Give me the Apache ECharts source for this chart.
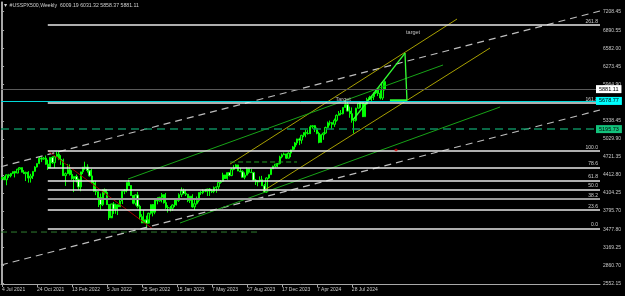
<!DOCTYPE html>
<html>
<head>
<meta charset="utf-8">
<title>#USSPX500,Weekly</title>
<script src="https://cdn.jsdelivr.net/npm/echarts@6/dist/echarts.min.js"></script>
<style>
  html, body { margin: 0; padding: 0; background: #000; }
  #chart { width: 625px; height: 296px; }
</style>
</head>
<body>
<div id="chart"></div>
<script>
// weekly bars from the week of 4 Jul 2021 to the week of 10 Nov 2024
var opens = [
  4352,4370,4327,4412,4395,4437,4468,4442,4509,4535,4458,4432,4455,4357,4391,4471,4545,4605,4697,4682,4698,4595,4538,4712,4620,4725,
  4766,4677,4663,4398,4432,4500,4419,4349,4385,4329,4204,4463,4543,4546,4488,4393,4272,4132,4123,4024,3901,4158,4109,3901,3675,3912,
  3825,3899,3863,3962,4130,4145,4280,4228,4058,3924,4067,3873,3693,3586,3640,3583,3753,3901,3771,3993,3965,4026,4072,3934,3852,3845,
  3840,3895,3999,3973,4071,4136,4090,4079,3970,4046,3862,3917,3971,4109,4105,4138,4133,4169,4136,4124,4192,4205,4282,4299,4410,4349,
  4450,4399,4505,4536,4582,4478,4464,4370,4406,4516,4457,4450,4320,4288,4309,4327,4224,4117,4358,4415,4514,4559,4595,4604,4719,4755,
  4770,4697,4784,4840,4891,4959,5027,5006,5089,5137,5124,5117,5234,5254,5204,5123,4967,5100,5128,5223,5303,5305,5278,5347,5432,5465,
  5460,5567,5615,5505,5459,5347,5344,5554,5634,5648,5408,5626,5703,5738,5751,5815,5864,5808,5729,6009.19
];
var highs = [
  4372,4393,4415,4429,4442,4468,4480,4513,4545,4536,4492,4465,4475,4429,4475,4559,4608,4718,4714,4718,4743,4672,4713,4731,4740,4808,
  4819,4749,4690,4453,4595,4590,4490,4385,4417,4347,4465,4547,4637,4593,4471,4513,4309,4307,4082,4091,4158,4178,4164,3838,3914,3946,
  3918,3875,4012,4140,4168,4281,4325,4203,4062,4077,4119,3899,3736,3806,3712,3763,3906,3911,4001,4028,4034,4101,4076,4101,3891,3878,
  3907,4003,4015,4095,4195,4176,4156,4082,4049,4079,3987,4040,4110,4133,4164,4170,4170,4184,4165,4212,4213,4290,4323,4448,4407,4456,
  4456,4527,4578,4593,4584,4531,4490,4452,4541,4515,4511,4464,4338,4314,4385,4394,4255,4367,4415,4520,4568,4595,4609,4739,4778,4793,
  4773,4799,4842,4907,4975,5030,5049,5098,5140,5189,5179,5262,5265,5264,5222,5150,5114,5139,5239,5325,5342,5316,5376,5448,5505,5523,
  5570,5655,5670,5582,5567,5383,5561,5643,5651,5651,5636,5733,5767,5767,5822,5878,5866,5862,6012,6031.32
];
var lows = [
  4321,4321,4233,4360,4368,4425,4367,4444,4513,4458,4427,4305,4278,4279,4340,4465,4537,4595,4630,4672,4585,4495,4558,4600,4531,4733,
  4663,4582,4396,4222,4451,4401,4327,4115,4279,4157,4130,4425,4497,4450,4381,4269,4124,4063,3859,3811,3875,4074,3901,3637,3705,3741,
  3744,3722,3863,3911,4080,4112,4218,4057,3907,3887,3838,3647,3585,3590,3492,3648,3731,3699,3736,3906,3951,3938,3918,3828,3765,3784,
  3794,3859,3885,3947,4031,4079,4048,3943,3928,3847,3809,3902,3940,4068,4080,4114,4049,4049,4099,4098,4104,4167,4260,4290,4341,4329,
  4385,4389,4491,4527,4475,4464,4365,4335,4414,4430,4446,4317,4238,4216,4284,4223,4104,4104,4342,4412,4511,4537,4546,4591,4695,4751,
  4682,4700,4714,4844,4845,4919,4921,4946,5057,5056,5103,5138,5203,5146,5107,4953,4969,5012,5114,5211,5257,5191,5234,5324,5431,5434,
  5448,5560,5497,5390,5306,5120,5324,5560,5560,5403,5406,5615,5703,5674,5696,5796,5762,5703,5696,5858.37
];
var closes = [
  4370,4327,4412,4395,4437,4468,4442,4509,4535,4458,4432,4455,4357,4391,4471,4545,4605,4697,4682,4698,4595,4538,4712,4620,4725,4766,
  4677,4663,4398,4432,4500,4419,4349,4385,4329,4204,4463,4543,4546,4488,4393,4272,4132,4123,4024,3901,4158,4109,3901,3675,3912,3825,
  3899,3863,3962,4130,4145,4280,4228,4058,3924,4067,3873,3693,3586,3640,3583,3753,3901,3771,3993,3965,4026,4072,3934,3852,3845,3840,
  3895,3999,3973,4071,4136,4090,4079,3970,4046,3862,3917,3971,4109,4105,4138,4133,4169,4136,4124,4192,4205,4282,4299,4410,4349,4450,
  4399,4505,4536,4582,4478,4464,4370,4406,4516,4457,4450,4320,4288,4309,4327,4224,4117,4358,4415,4514,4559,4595,4604,4719,4755,4770,
  4697,4784,4840,4891,4959,5027,5006,5089,5137,5124,5117,5234,5254,5204,5123,4967,5100,5128,5223,5303,5305,5278,5347,5432,5465,5460,
  5567,5615,5505,5459,5347,5344,5554,5634,5648,5408,5626,5703,5738,5751,5815,5864,5808,5729,5995,5881.11
];

// time labels, one every 16 weeks
var dateLabels = ['4 Jul 2021','24 Oct 2021','13 Feb 2022','5 Jun 2022','25 Sep 2022','15 Jan 2023',
                  '7 May 2023','27 Aug 2023','17 Dec 2023','7 Apr 2024','28 Jul 2024'];
var priceLabels = [2552.15,2860.70,3169.25,3477.80,3795.70,4104.25,4412.80,4721.35,5029.90,5338.45,
                   5964.90,6273.45,6582.00,6890.55,7208.45];

// fibonacci retracement
var fibLow = 3492, fibHigh = 4825;
var fibLevels = [0, 23.6, 38.2, 50, 61.8, 78.6, 100, 161.8, 261.8];
var fibStart = 20.9;

var bidPrice = 5881.11;
var cyanLevel = 5678.77;
var greenLevel = 5195.73;

// drawn objects as [week index, price]
var upperDash = [[-0.5, 4551], [273.5, 7221]];
var lowerDash = [[-0.5, 2866], [273.5, 5523]];
var yellowUpper = [[104.3, 4597], [208.1, 7083]];
var yellowLower = [[119.4, 4134], [223.2, 6586]];
var greenA = [[57.6, 4340], [201.7, 6295]];
var greenB = [[81.4, 3586], [227.8, 5575]];
var fibDiag = [[fibStart, fibHigh], [68.6, fibLow]];
var greenShort = [[104.3, 4632], [134.9, 4632]];
var lowDash = [[-0.5, 3431], [117.1, 3431]];
var limeDiag = [[160.5, 5352], [184.3, 6500]];
var limeVert = [[184.3, 6500], [185.2, 5690]];
var limeBase = [[177.4, 5690], [185.2, 5690]];
var textMarks = [[188.0, 6860, 'target'], [156.0, 5700, 'Target']];
var redMark = [[180.2, 4837]];

var SLOTS = 274;
var FONT = 'Liberation Sans';

var cats = [];
for (var i = 0; i < SLOTS; i++) cats.push(i);

var candles = opens.map(function (o, i) {
  return [o, closes[i], lows[i], highs[i]];
});

function seg(pts, color, width, dash) {
  return {
    type: 'line', xAxisIndex: 1, yAxisIndex: 0, data: pts,
    symbol: 'none', silent: true, animation: false, z: 4,
    lineStyle: { color: color, width: width, type: dash || 'solid' }
  };
}

var fibLines = fibLevels.map(function (l) {
  var p = fibLow + (fibHigh - fibLow) * l / 100;
  return [
    { coord: [fibStart, p], name: l.toFixed(1),
      lineStyle: { color: l === 38.2 ? '#9a9a9a' : '#e8e8e8', width: l === 38.2 ? 2 : 1.5, type: 'solid' } },
    { coord: [273.5, p] }
  ];
});

function priceBox(val, lineColor, dash, boxColor) {
  return {
    yAxis: val,
    lineStyle: { color: lineColor, width: dash ? 1.5 : 1, type: dash ? [8, 5] : 'solid' },
    label: {
      show: true, position: 'end', distance: -4, formatter: val.toFixed(2),
      backgroundColor: boxColor, color: '#000', fontSize: 5.5, fontFamily: FONT,
      padding: [1, 3, 1, 3]
    }
  };
}

var chart = echarts.init(document.getElementById('chart'));
chart.setOption({
  backgroundColor: '#000',
  animation: false,
  title: {
    text: '\u25BC #USSPX500,Weekly  ' + opens[opens.length - 1].toFixed(2) + ' ' +
          highs[highs.length - 1].toFixed(2) + ' ' + lows[lows.length - 1].toFixed(2) + ' ' +
          closes[closes.length - 1].toFixed(2),
    left: 3, top: 3, padding: 0,
    textStyle: { color: '#cfcfcf', fontSize: 5.2, fontWeight: 'normal', fontFamily: FONT }
  },
  grid: { left: 1, right: 25, top: 2, bottom: 12, containLabel: false, outerBoundsMode: 'none' },
  xAxis: [{
    type: 'category', data: cats, boundaryGap: true,
    axisLine: { show: true, lineStyle: { color: '#a8a8a8', width: 1 } },
    axisTick: { show: true, alignWithLabel: true, length: 3, lineStyle: { color: '#a8a8a8' },
      interval: function (idx) { return idx % 16 === 0 && idx / 16 < dateLabels.length; } },
    axisLabel: {
      show: true, color: '#c8c8c8', fontSize: 5, fontFamily: FONT, align: 'left', margin: 3,
      interval: function (idx) { return idx % 16 === 0 && idx / 16 < dateLabels.length; },
      formatter: function (v, idx) { return dateLabels[idx / 16] || ''; }
    },
    splitLine: { show: false }
  }, {
    type: 'value', min: -0.5, max: SLOTS - 0.5, show: false
  }],
  yAxis: [{
    type: 'value', position: 'right', min: 2540, max: 7375, scale: true,
    axisLine: { show: true, lineStyle: { color: '#a8a8a8', width: 1 } },
    axisTick: { show: true, length: 2, customValues: priceLabels, lineStyle: { color: '#a8a8a8' } },
    axisLabel: { show: true, customValues: priceLabels, color: '#c8c8c8', fontSize: 5, fontFamily: FONT, margin: 3,
      formatter: function (v) { return v.toFixed(2); } },
    splitLine: { show: false }
  }, {
    type: 'value', position: 'left', min: 2540, max: 7375,
    axisLine: { show: true, lineStyle: { color: '#a8a8a8', width: 1 } },
    axisTick: { show: false }, axisLabel: { show: false }, splitLine: { show: false }
  }],
  series: [
    {
      type: 'candlestick', data: candles, barWidth: 1.8, z: 3,
      itemStyle: { color: '#0a2a0a', color0: '#e8ffe8', borderColor: '#00ff00', borderColor0: '#00ff00', borderWidth: 1 }
    },
    seg(upperDash, '#bdbdbd', 1.2, [7, 5]),
    seg(lowerDash, '#bdbdbd', 1.2, [7, 5]),
    seg(lowDash, '#2f7d2f', 1, [6, 4]),
    seg(yellowUpper, '#a8a000', 1),
    seg(yellowLower, '#a8a000', 1),
    seg(greenA, '#17a317', 1),
    seg(greenB, '#17a317', 1),
    seg(fibDiag, '#a00000', 1),
    seg(greenShort, '#22a022', 1, [5, 3]),
    seg(limeDiag, '#33ff33', 1.3),
    seg(limeVert, '#33ff33', 1.3),
    seg(limeBase, '#33ff33', 2),
    {
      type: 'line', xAxisIndex: 1, yAxisIndex: 0, data: [], silent: true, z: 5,
      markLine: {
        symbol: ['none', 'none'], silent: true, animation: false,
        label: { show: true, position: 'insideEndTop', formatter: '{b}', color: '#d0d0d0',
          fontSize: 5, fontFamily: FONT, distance: [2, 1] },
        data: fibLines
      }
    },
    {
      type: 'line', xAxisIndex: 1, yAxisIndex: 0, data: [], silent: true, z: 6,
      markLine: {
        symbol: ['none', 'none'], silent: true, animation: false,
        data: [
          priceBox(greenLevel, '#0d8a5e', true, '#13c27c'),
          priceBox(cyanLevel, '#00d8d8', false, '#00ffff'),
          priceBox(bidPrice, '#5a5a5a', false, '#ffffff')
        ]
      }
    },
    {
      type: 'scatter', xAxisIndex: 1, yAxisIndex: 0, symbol: 'circle', symbolSize: 1, silent: true, z: 7,
      itemStyle: { color: 'rgba(0,0,0,0)' },
      data: textMarks.map(function (t) { return { value: [t[0], t[1]], name: t[2] }; }),
      label: { show: true, position: 'inside', formatter: '{b}', color: '#e8e8e8', fontSize: 5.5, fontFamily: FONT }
    },
    {
      type: 'scatter', xAxisIndex: 1, yAxisIndex: 0, symbol: 'diamond', symbolSize: [4, 3], silent: true, z: 7,
      data: redMark, itemStyle: { color: '#e00000' }
    }
  ]
});
</script>
</body>
</html>
